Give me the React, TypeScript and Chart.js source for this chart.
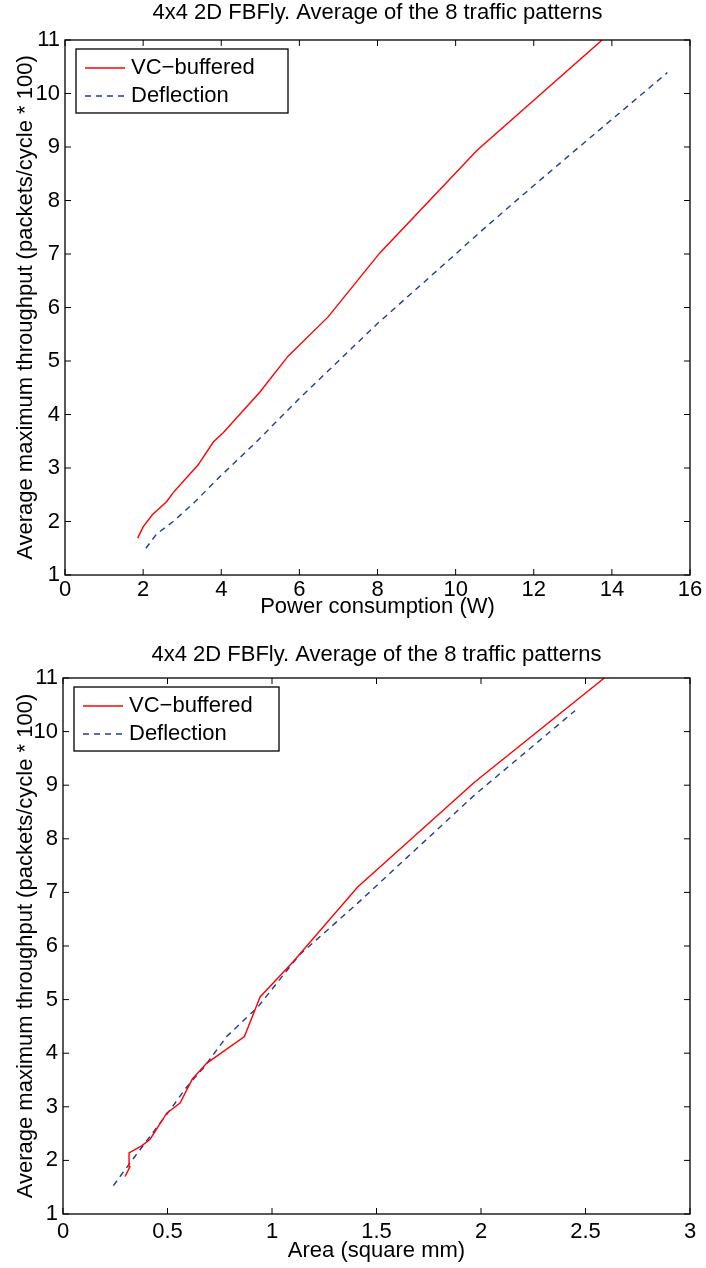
import React, { useEffect, useRef } from 'react';
import { Chart, registerables } from 'chart.js';

Chart.register(...registerables);

const TITLE = '4x4 2D FBFly. Average of the 8 traffic patterns';
const Y_TITLE = 'Average maximum throughput (packets/cycle * 100)';
const SERIES_NAMES = ['VC\u2212buffered', 'Deflection'];

// Top chart: throughput vs power
const POWER_X_TITLE = 'Power consumption (W)';
const powerVcX = [1.86, 2.0, 2.24, 2.6, 2.77, 3.14, 3.41, 3.8, 4.05, 4.99, 5.71, 6.73, 8.06, 10.55, 13.75];
const powerVcY = [1.69, 1.9, 2.13, 2.37, 2.54, 2.84, 3.06, 3.49, 3.66, 4.42, 5.09, 5.82, 7.02, 8.94, 11.0];
const powerDefX = [2.07, 2.35, 2.77, 3.3, 3.97, 4.9, 6.0, 7.0, 8.0, 9.0, 10.0, 10.78, 12.0, 13.0, 14.04, 15.42];
const powerDefY = [1.5, 1.77, 2.0, 2.35, 2.84, 3.49, 4.3, 5.0, 5.7, 6.35, 7.0, 7.51, 8.28, 8.9, 9.54, 10.39];
const powerTicks = [0, 2, 4, 6, 8, 10, 12, 14, 16];

// Bottom chart: throughput vs area
const AREA_X_TITLE = 'Area (square mm)';
const areaVcX = [0.297, 0.32, 0.316, 0.376, 0.416, 0.496, 0.56, 0.619, 0.687, 0.868, 0.943, 1.1, 1.41, 1.97, 2.59];
const areaVcY = [1.7, 1.88, 2.14, 2.27, 2.39, 2.88, 3.07, 3.52, 3.81, 4.31, 5.05, 5.7, 7.1, 9.06, 11.0];
const areaDefX = [0.241, 0.32, 0.392, 0.512, 0.592, 0.671, 0.783, 0.934, 1.13, 1.41, 1.97, 2.45];
const areaDefY = [1.53, 1.95, 2.32, 2.94, 3.37, 3.72, 4.31, 4.87, 5.83, 6.8, 8.82, 10.39];
const areaTicks = [0, 0.5, 1, 1.5, 2, 2.5, 3];

const yTicks = [1, 2, 3, 4, 5, 6, 7, 8, 9, 10, 11];

const FONT_FAMILY = "'Liberation Sans', Arial, Helvetica, sans-serif";
const FONT_SIZE = 22;
const RED = '#ff0000';
const BLUE = '#1f3c9a';

const zip = (xs: number[], ys: number[]) => xs.map((x, i) => ({ x, y: ys[i] }));

type Cfg = {
  vcX: number[]; vcY: number[]; defX: number[]; defY: number[];
  xTicks: number[]; xTitle: string;
  plotLeft: number; plotTop: number; plotBottom: number; plotRight: number;
  height: number; legendW: number; labelPad: number; xTitleOff: number; titleOff: number;
};

function makeChart(canvas: HTMLCanvasElement, c: Cfg) {
  const W = 706;
  const font = `${FONT_SIZE}px ${FONT_FAMILY}`;
  const decor = {
    id: 'matlabDecor',
    afterDraw(chart: any) {
      const ctx = chart.ctx as CanvasRenderingContext2D;
      const a = chart.chartArea;
      const xs = chart.scales.x;
      const ys = chart.scales.y;
      ctx.save();
      ctx.strokeStyle = '#000';
      ctx.lineWidth = 1.3;
      ctx.strokeRect(a.left, a.top, a.right - a.left, a.bottom - a.top);
      const tl = 6;
      ctx.beginPath();
      c.xTicks.forEach((v) => {
        const px = xs.getPixelForValue(v);
        ctx.moveTo(px, a.bottom); ctx.lineTo(px, a.bottom - tl);
        ctx.moveTo(px, a.top); ctx.lineTo(px, a.top + tl);
      });
      yTicks.forEach((v) => {
        const py = ys.getPixelForValue(v);
        ctx.moveTo(a.left, py); ctx.lineTo(a.left + tl, py);
        ctx.moveTo(a.right, py); ctx.lineTo(a.right - tl, py);
      });
      ctx.lineWidth = 1;
      ctx.stroke();

      ctx.fillStyle = '#000';
      ctx.font = font;
      ctx.textAlign = 'center';
      ctx.textBaseline = 'middle';
      const cx = (a.left + a.right) / 2;
      ctx.fillText(TITLE, cx, a.top - c.titleOff);
      ctx.fillText(c.xTitle, cx, a.bottom + c.xTitleOff);
      ctx.save();
      ctx.translate(26, (a.top + a.bottom) / 2);
      ctx.rotate(-Math.PI / 2);
      ctx.fillText(Y_TITLE, 0, 0);
      ctx.restore();

      // legend
      const lx = a.left + 11, ly = a.top + 9, lw = c.legendW, lh = 64;
      ctx.fillStyle = '#fff';
      ctx.fillRect(lx, ly, lw, lh);
      ctx.strokeStyle = '#000';
      ctx.lineWidth = 1.3;
      ctx.strokeRect(lx, ly, lw, lh);
      const rows = [ly + 19, ly + 47];
      const styles = [
        { color: RED, dash: [] as number[] },
        { color: BLUE, dash: [6, 5] },
      ];
      rows.forEach((ry, i) => {
        ctx.beginPath();
        ctx.strokeStyle = styles[i].color;
        ctx.lineWidth = 1.4;
        ctx.setLineDash(styles[i].dash);
        ctx.moveTo(lx + 9, ry);
        ctx.lineTo(lx + 49, ry);
        ctx.stroke();
        ctx.setLineDash([]);
        ctx.fillStyle = '#000';
        ctx.textAlign = 'left';
        ctx.fillText(SERIES_NAMES[i], lx + 55, ry);
      });
      ctx.restore();
    },
  };

  return new Chart(canvas, {
    type: 'line',
    data: {
      datasets: [
        {
          label: SERIES_NAMES[0],
          data: zip(c.vcX, c.vcY),
          borderColor: RED,
          borderWidth: 1.4,
          pointRadius: 0,
          tension: 0,
          fill: false,
        },
        {
          label: SERIES_NAMES[1],
          data: zip(c.defX, c.defY),
          borderColor: BLUE,
          borderWidth: 1.4,
          borderDash: [6, 5],
          pointRadius: 0,
          tension: 0,
          fill: false,
        },
      ],
    },
    options: {
      animation: false,
      responsive: false,
      devicePixelRatio: 1,
      layout: { padding: { top: c.plotTop, right: W - c.plotRight, left: 0, bottom: 0 } },
      plugins: { legend: { display: false }, tooltip: { enabled: false }, title: { display: false } },
      scales: {
        x: {
          type: 'linear',
          min: c.xTicks[0],
          max: c.xTicks[c.xTicks.length - 1],
          afterBuildTicks: (s: any) => { s.ticks = c.xTicks.map((v) => ({ value: v })); },
          afterFit: (s: any) => { s.height = c.height - c.plotBottom; },
          grid: { display: false, drawTicks: false },
          border: { display: false },
          ticks: {
            color: '#000',
            font: { family: FONT_FAMILY, size: FONT_SIZE },
            padding: c.labelPad,
            maxRotation: 0,
            autoSkip: false,
            callback: (v: any) => String(v),
          },
        },
        y: {
          type: 'linear',
          min: 1,
          max: 11,
          afterBuildTicks: (s: any) => { s.ticks = yTicks.map((v) => ({ value: v })); },
          afterFit: (s: any) => { s.width = c.plotLeft; },
          grid: { display: false, drawTicks: false },
          border: { display: false },
          ticks: {
            color: '#000',
            font: { family: FONT_FAMILY, size: FONT_SIZE },
            padding: 5,
            autoSkip: false,
            callback: (v: any) => String(v),
          },
        },
      },
    },
    plugins: [decor],
  } as any);
}

function Panel({ cfg }: { cfg: Cfg }) {
  const ref = useRef<HTMLCanvasElement | null>(null);
  useEffect(() => {
    if (!ref.current) return;
    const ch = makeChart(ref.current, cfg);
    return () => ch.destroy();
  }, []);
  return (
    <div style={{ width: 706, height: cfg.height, position: 'relative' }}>
      <canvas ref={ref} width={706} height={cfg.height} style={{ display: 'block', width: 706, height: cfg.height }} />
    </div>
  );
}

export default function App() {
  const top: Cfg = {
    vcX: powerVcX, vcY: powerVcY, defX: powerDefX, defY: powerDefY,
    xTicks: powerTicks, xTitle: POWER_X_TITLE,
    plotLeft: 65, plotTop: 40, plotBottom: 575, plotRight: 690, height: 634, legendW: 212,
    labelPad: 2, xTitleOff: 32, titleOff: 27,
  };
  const bottom: Cfg = {
    vcX: areaVcX, vcY: areaVcY, defX: areaDefX, defY: areaDefY,
    xTicks: areaTicks, xTitle: AREA_X_TITLE,
    plotLeft: 63, plotTop: 44, plotBottom: 580, plotRight: 690, height: 634, legendW: 205,
    labelPad: 5, xTitleOff: 37, titleOff: 23,
  };
  return (
    <div style={{ position: 'absolute', left: 0, top: 0, width: 706, height: 1268, background: '#fff' }}>
      <Panel cfg={top} />
      <Panel cfg={bottom} />
    </div>
  );
}
